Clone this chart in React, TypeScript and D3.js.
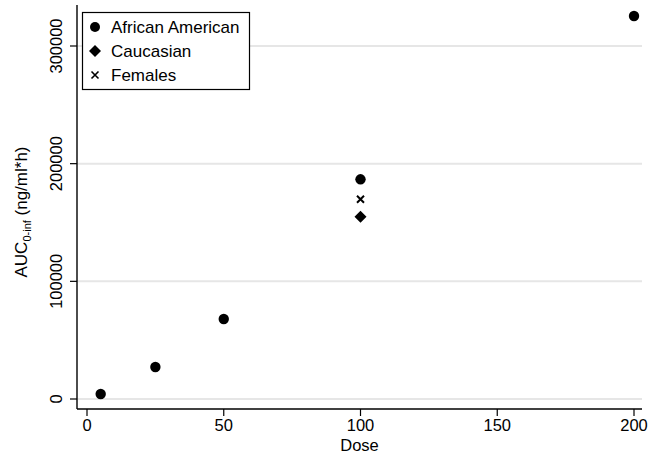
import React from "react";
import * as d3 from "d3";

const africanDose = [5, 25, 50, 100, 200];
const africanAUC = [4250, 27200, 68000, 186700, 325500];
const caucasianDose = [100];
const caucasianAUC = [154900];
const femaleDose = [100];
const femaleAUC = [169700];
const xTicks = [0, 50, 100, 150, 200];
const yTicks = [0, 100000, 200000, 300000];
const legendLabels = ["African American", "Caucasian", "Females"];

const W = 652, H = 454;
const FONT = "'Liberation Sans', Arial, sans-serif";

export default function App() {
  const x = d3.scaleLinear().domain([0, 200]).range([87, 634]);
  const y = d3.scaleLinear().domain([0, 300000]).range([399, 46]);
  const axisY = 409;
  const axisX = 77;
  const right = 642;

  const diamond = (cx: number, cy: number, r: number) =>
    `M${cx},${cy - r}L${cx + r},${cy}L${cx},${cy + r}L${cx - r},${cy}Z`;
  const cross = (cx: number, cy: number, r: number) =>
    `M${cx - r},${cy - r}L${cx + r},${cy + r}M${cx - r},${cy + r}L${cx + r},${cy - r}`;

  return (
    <svg width={W} height={H} style={{ position: "absolute", left: 0, top: 0, background: "#fff" }} fontFamily={FONT}>
      <rect width={W} height={H} fill="#fff" />
      {yTicks.map((t) => (
        <g key={t}>
          <line x1={axisX} x2={right} y1={y(t)} y2={y(t)} stroke="#e6e6e6" strokeWidth={2} />
          <line x1={axisX - 7} x2={axisX} y1={y(t)} y2={y(t)} stroke="#000" strokeWidth={1.2} />
          <text transform={`translate(${axisX - 15},${y(t)}) rotate(-90)`} textAnchor="middle" fontSize={16.5}>{t}</text>
        </g>
      ))}
      <line x1={axisX} x2={axisX} y1={5} y2={axisY} stroke="#000" strokeWidth={1.4} />
      <line x1={axisX} x2={right} y1={axisY} y2={axisY} stroke="#000" strokeWidth={1.4} />
      {xTicks.map((t) => (
        <g key={t}>
          <line x1={x(t)} x2={x(t)} y1={axisY} y2={axisY + 7} stroke="#000" strokeWidth={1.2} />
          <text x={x(t)} y={axisY + 22} textAnchor="middle" fontSize={16.5}>{t}</text>
        </g>
      ))}
      <text x={(axisX + right) / 2} y={451} textAnchor="middle" fontSize={16.5}>Dose</text>
      <text transform={`translate(27,212) rotate(-90)`} textAnchor="middle" fontSize={17}>
        AUC<tspan fontSize={11} dy={4}>0-inf</tspan><tspan dy={-4}> (ng/ml*h)</tspan>
      </text>
      {africanDose.map((d, i) => (
        <circle key={"a" + i} cx={x(d)} cy={y(africanAUC[i])} r={5.2} fill="#000" />
      ))}
      {caucasianDose.map((d, i) => (
        <path key={"c" + i} d={diamond(x(d), y(caucasianAUC[i]), 6)} fill="#000" />
      ))}
      {femaleDose.map((d, i) => (
        <path key={"f" + i} d={cross(x(d), y(femaleAUC[i]), 3.5)} stroke="#000" strokeWidth={2} fill="none" />
      ))}
      <rect x={82.5} y={12.5} width={167} height={77} fill="#fff" stroke="#000" strokeWidth={1.2} />
      {legendLabels.map((l, i) => {
        const cy = 27 + i * 24;
        return (
          <g key={l}>
            {i === 0 && <circle cx={95} cy={cy} r={5} fill="#000" />}
            {i === 1 && <path d={diamond(95, cy, 6)} fill="#000" />}
            {i === 2 && <path d={cross(95, cy, 3.5)} stroke="#000" strokeWidth={1.6} fill="none" />}
            <text x={111} y={cy + 6} fontSize={17}>{l}</text>
          </g>
        );
      })}
    </svg>
  );
}
